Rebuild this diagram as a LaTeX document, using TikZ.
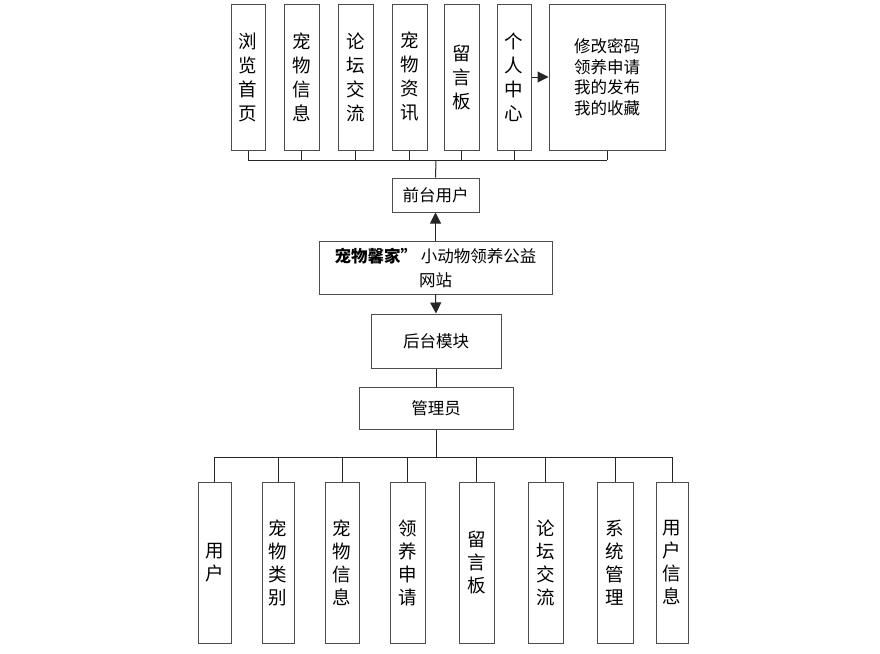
\documentclass[tikz,border=0pt]{standalone}
\usepackage{fontspec}
\setmainfont{Noto Sans CJK SC}
\usetikzlibrary{arrows.meta}
\begin{document}
\begin{tikzpicture}[x=1pt,y=-1pt,
  box/.style={draw=black!70,line width=1pt,fill=white,inner sep=0pt,align=center},
  topv/.style={box,minimum width=34pt,minimum height=146pt,font=\fontsize{18.5}{24}\selectfont},
  botv/.style={box,minimum width=34pt,minimum height=161pt,font=\fontsize{18.5}{23}\selectfont},
  mid/.style={box,font=\fontsize{16.5}{24}\selectfont},
  con/.style={draw=black!85,line width=1pt},
  arr/.style={con,-{Triangle[length=11pt,width=11pt]}}]
\useasboundingbox (0,0) rectangle (880,653);
% top row
\node[topv,minimum width=34pt] (t1) at (248,77) {浏\\览\\首\\页};
\node[topv,minimum width=35pt] (t2) at (301.5,77) {宠\\物\\信\\息};
\node[topv,minimum width=35pt] (t3) at (355.5,77) {论\\坛\\交\\流};
\node[topv,minimum width=35pt] (t4) at (409.5,77) {宠\\物\\资\\讯};
\node[topv,minimum width=35pt] (t5) at (461.5,77) {留\\言\\板};
\node[topv,minimum width=34pt] (t6) at (514,77) {个\\人\\中\\心};
\node[box,minimum width=116pt,minimum height=146pt,font=\fontsize{16.5}{20.5}\selectfont] (t7) at (607,77) {修改密码\\领养申请\\我的发布\\我的收藏};
\coordinate (busT) at (436,160);
\node[mid,minimum width=87pt,minimum height=34pt] (front) at (435.5,195) {前台用户};
\node[mid,minimum width=233pt,minimum height=53pt] (web) at (435.5,267.5) {{\bfseries 宠物馨家”}\ 小动物领养公益\\网站};
\node[mid,minimum width=130pt,minimum height=54pt] (back) at (436,341) {后台模块};
\node[mid,minimum width=154pt,minimum height=42pt] (admin) at (436,408) {管理员};
\coordinate (busB) at (436,457);
% bottom row
\node[botv,minimum width=33pt] (b1) at (214.5,562.5) {用\\户};
\node[botv,minimum width=32pt] (b2) at (278,562.5) {宠\\物\\类\\别};
\node[botv,minimum width=34pt] (b3) at (342,562.5) {宠\\物\\信\\息};
\node[botv,minimum width=35pt] (b4) at (407.5,562.5) {领\\养\\申\\请};
\node[botv,minimum width=35pt] (b5) at (476.5,562.5) {留\\言\\板};
\node[botv,minimum width=35pt] (b6) at (545.5,562.5) {论\\坛\\交\\流};
\node[botv,minimum width=36pt] (b7) at (615,562.5) {系\\统\\管\\理};
\node[botv,minimum width=32pt] (b8) at (672,562.5) {用\\户\\信\\息};
% top connectors
\foreach \n in {t1,t2,t3,t4,t5,t6,t7} {\draw[con] (\n.south) -- (\n.south |- busT);}
\draw[con] (t1.south |- busT) -- (t7.south |- busT);
\draw[con] (front.north) -- (busT);
\draw[arr] (t6.east |- t7.west) -- (t7.west);
\draw[arr] (web.north) -- (front.south);
\draw[arr] (web.south) -- (back.north);
\draw[con] (back.south) -- (admin.north);
% bottom connectors
\draw[con] (admin.south) -- (busB);
\draw[con] (b1.north |- busB) -- (b8.north |- busB);
\foreach \n in {b1,b2,b3,b4,b5,b6,b7,b8} {\draw[con] (\n.north |- busB) -- (\n.north);}
\end{tikzpicture}
\end{document}
